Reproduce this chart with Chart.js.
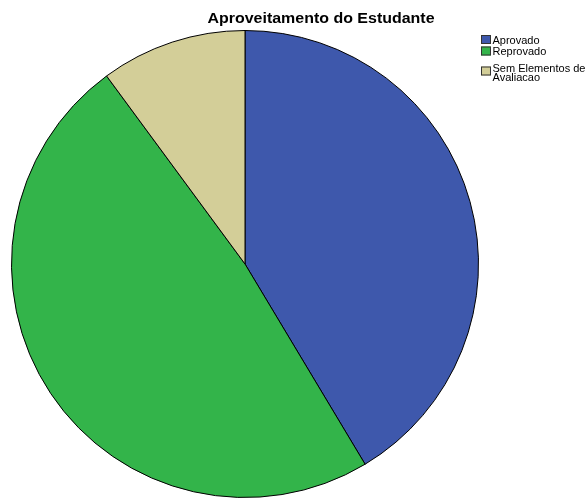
<!DOCTYPE html>
<html><head><meta charset="utf-8">
<script src="https://cdn.jsdelivr.net/npm/chart.js@4/dist/chart.umd.min.js"></script>
<style>html,body{margin:0;padding:0;background:#fff;}#wrap{width:585px;height:498px;position:relative;}</style>
</head><body>
<div id="wrap"><canvas id="c" width="585" height="498"></canvas></div>
<script>
const categories = ["Aprovado", "Reprovado", "Sem Elementos de Avaliacao"];
const legendLabels = [["Aprovado"], ["Reprovado"], ["Sem Elementos de", "Avaliacao"]];
const values = [41.4, 48.5, 10.1];
const colors = ["#3E58AC", "#33B44A", "#D3CE98"];
const titleText = "Aproveitamento do Estudante";

const overlay = {
  id: 'overlay',
  afterDraw(chart) {
    const ctx = chart.ctx;
    ctx.save();
    ctx.fillStyle = '#000';
    ctx.font = 'bold 14px "Liberation Sans", Arial, sans-serif';
    ctx.textAlign = 'center';
    ctx.textBaseline = 'alphabetic';
    ctx.save();
    ctx.translate(321, 23);
    ctx.scale(1.14, 1);
    ctx.fillText(titleText, 0, 0);
    ctx.restore();
    ctx.font = '11px "Liberation Sans", Arial, sans-serif';
    ctx.textAlign = 'left';
    const boxY = [35, 46.5, 66.5];
    const textY = [[43.5], [54.5], [72, 81]];
    legendLabels.forEach((lines, i) => {
      const y = boxY[i];
      ctx.fillStyle = colors[i];
      ctx.fillRect(481, y, 10, 9);
      ctx.strokeStyle = '#333';
      ctx.lineWidth = 1;
      ctx.strokeRect(481.5, y + 0.5, 9, 8);
      ctx.fillStyle = '#000';
      lines.forEach((t, j) => {
        ctx.fillText(t, 492.5, textY[i][j]);
      });
    });
    ctx.restore();
  }
};

new Chart(document.getElementById('c'), {
  type: 'pie',
  data: {
    labels: categories,
    datasets: [{
      data: values,
      backgroundColor: colors,
      borderColor: '#000',
      borderWidth: 1
    }]
  },
  options: {
    responsive: false,
    animation: false,
    layout: { padding: { left: 10, right: 105, top: 30, bottom: 0 } },
    plugins: { legend: { display: false }, title: { display: false }, tooltip: { enabled: false } }
  },
  plugins: [overlay]
});
</script>
</body></html>
